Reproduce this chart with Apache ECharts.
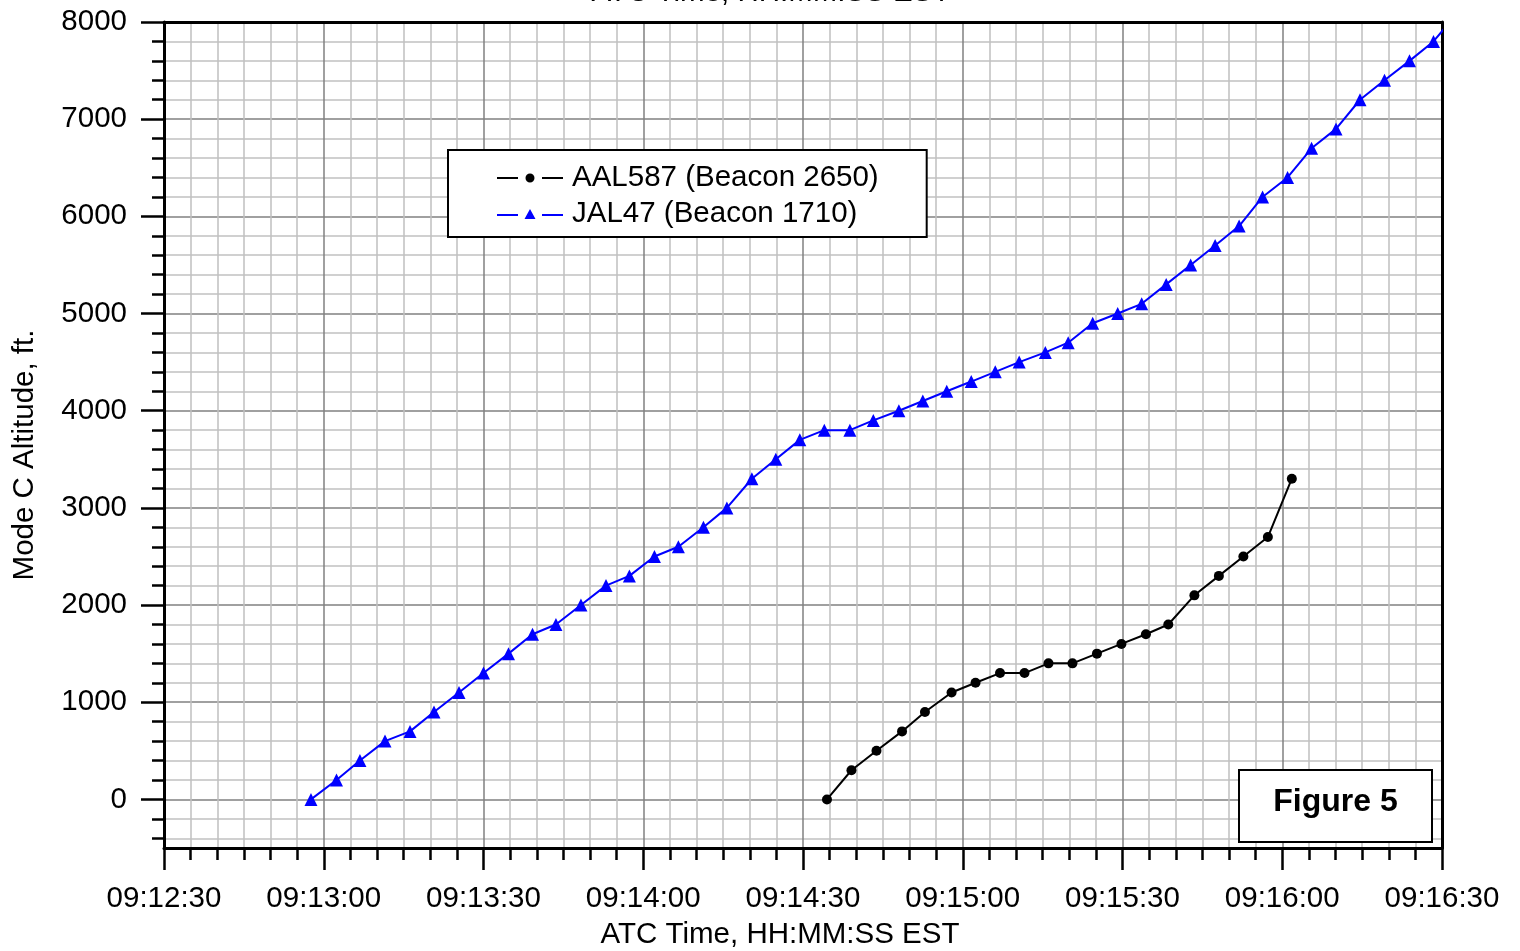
<!DOCTYPE html>
<html><head><meta charset="utf-8">
<script src="https://cdn.jsdelivr.net/npm/echarts@6/dist/echarts.min.js"></script>
<style>html,body{margin:0;padding:0;background:#fff}#c{width:1520px;height:951px}</style>
</head><body><div id="c"></div>
<script>
// ---- data ----
const xTickLabels = ['09:12:30','09:13:00','09:13:30','09:14:00','09:14:30','09:15:00','09:15:30','09:16:00','09:16:30'];
const yTickLabels = [0,1000,2000,3000,4000,5000,6000,7000,8000];
const yBottom = -500;
const yMinorStep = 200;

const aalName = 'AAL587 (Beacon 2650)';
const aalTimes = ['09:14:34.5','09:14:39.1','09:14:43.8','09:14:48.6','09:14:52.9','09:14:57.9','09:15:02.4','09:15:07.0','09:15:11.6','09:15:16.1','09:15:20.6','09:15:25.2','09:15:29.8','09:15:34.4','09:15:38.6','09:15:43.5','09:15:48.1','09:15:52.7','09:15:57.3','09:16:01.8'];
const aalAlt = [0,300,500,700,900,1100,1200,1300,1300,1400,1400,1500,1600,1700,1800,2100,2300,2500,2700,3300];

const jalName = 'JAL47 (Beacon 1710)';
const jalTimes = ['09:12:57.6','09:13:02.4','09:13:06.8','09:13:11.5','09:13:16.2','09:13:20.7','09:13:25.4','09:13:30.0','09:13:34.7','09:13:39.2','09:13:43.6','09:13:48.3','09:13:53.0','09:13:57.4','09:14:02.1','09:14:06.6','09:14:11.3','09:14:15.7','09:14:20.4','09:14:24.9','09:14:29.4','09:14:34.0','09:14:38.8','09:14:43.2','09:14:48.0','09:14:52.5','09:14:57.0','09:15:01.6','09:15:06.1','09:15:10.6','09:15:15.5','09:15:19.8','09:15:24.4','09:15:29.1','09:15:33.6','09:15:38.2','09:15:42.8','09:15:47.4','09:15:51.9','09:15:56.3','09:16:01.0','09:16:05.5','09:16:10.1','09:16:14.6','09:16:19.2','09:16:23.9','09:16:28.4','09:16:33.0'];
const jalAlt = [0,200,400,600,700,900,1100,1300,1500,1700,1800,2000,2200,2300,2500,2600,2800,3000,3300,3500,3700,3800,3800,3900,4000,4100,4200,4300,4400,4500,4600,4700,4900,5000,5100,5300,5500,5700,5900,6200,6400,6700,6900,7200,7400,7600,7800,8100];

// ---- helpers ----
function toSec(s){const p=s.split(':');return (+p[0])*3600+(+p[1])*60+parseFloat(p[2]);}
function pad(n){return (n<10?'0':'')+n;}
function fmt(v){v=Math.round(v);const h=Math.floor(v/3600),m=Math.floor((v%3600)/60),s=v%60;return pad(h)+':'+pad(m)+':'+pad(s);}

const xMin = toSec(xTickLabels[0]);
const xMax = toSec(xTickLabels[xTickLabels.length-1]);
const xInt = toSec(xTickLabels[1]) - xMin;
const yMax = yTickLabels[yTickLabels.length-1];
const yMajor = yTickLabels[1]-yTickLabels[0];
const yCats = [];
for (let v=yBottom; v<=yMax; v+=100) yCats.push(String(v));

const FONT = "'Liberation Sans', Arial, Helvetica, sans-serif";
const FS = 29.5;

const isMinor = (i,v)=> (+v)%yMinorStep===0;
const isMinorOnly = (i,v)=> (+v)%yMinorStep===0 && (+v)%yMajor!==0;
const isMajor = (i,v)=> (+v)%yMajor===0 && +v>=yTickLabels[0];
const isMajorInner = (i,v)=> (+v)%yMajor===0 && +v>=yTickLabels[0] && +v<yMax;

// legend icons: line — marker — line (gap around the marker)
const iconDot = 'path://M0,4 L21,4 L21,6 L0,6 Z M45,4 L66,4 L66,6 L45,6 Z M28.5,5 A4.5,4.5 0 1,0 37.5,5 A4.5,4.5 0 1,0 28.5,5 Z M33,0 L33,0.01 L33.01,0.01 Z M33,10 L33,9.99 L33.01,9.99 Z';
const iconTri = 'path://M0,5 L21,5 L21,7 L0,7 Z M45,5 L66,5 L66,7 L45,7 Z M33,0 L38.5,10 L27.5,10 Z';

const chart = echarts.init(document.getElementById('c'), null, {renderer:'canvas'});
chart.setOption({
  animation:false,
  backgroundColor:'#fff',
  textStyle:{fontFamily:FONT},
  grid:{left:164,right:78,top:22,bottom:103,show:false,containLabel:false,outerBoundsMode:'none'},
  xAxis:[
    {type:'value',position:'bottom',min:xMin,max:xMax,interval:xInt,
     axisLine:{show:true,onZero:false,lineStyle:{color:'#000',width:3}},
     axisTick:{show:true,length:22,lineStyle:{color:'#000',width:2.5}},
     minorTick:{show:true,splitNumber:6,length:12,lineStyle:{color:'#000',width:2.5}},
     splitLine:{show:true,showMinLine:false,showMaxLine:false,lineStyle:{color:'#808080',width:1.5}},
     minorSplitLine:{show:true,lineStyle:{color:'#c0c0c0',width:1.5}},
     axisLabel:{formatter:fmt,fontSize:FS,color:'#000',margin:36,fontFamily:FONT,showMinLabel:true,showMaxLabel:true},
     name:'ATC Time, HH:MM:SS EST',nameLocation:'middle',nameGap:72,
     nameTextStyle:{fontSize:FS,color:'#000',fontFamily:FONT,padding:[0,46,0,0]}},
    {type:'value',position:'top',min:xMin,max:xMax,interval:xInt,z:3,
     axisLine:{show:true,onZero:false,lineStyle:{color:'#000',width:3}},
     axisTick:{show:false},axisLabel:{show:false},splitLine:{show:false},
     name:'ATC Time, HH:MM:SS EST',nameLocation:'middle',nameGap:14,
     nameTextStyle:{fontSize:FS,color:'#000',fontFamily:FONT,padding:[0,64,0,0]}}
  ],
  yAxis:[
    {type:'value',position:'left',min:yBottom,max:yMax,z:3,
     axisLine:{show:true,onZero:false,lineStyle:{color:'#000',width:3}},
     axisTick:{show:false},axisLabel:{show:false},splitLine:{show:false},
     name:'Mode C Altitude, ft.',nameLocation:'middle',nameGap:124,nameRotate:90,
     nameTextStyle:{fontSize:FS,color:'#000',fontFamily:FONT,padding:[0,40,0,0]}},
    {type:'category',position:'left',offset:0,boundaryGap:false,data:yCats,
     axisLine:{show:false},
     axisTick:{show:true,interval:isMinor,length:12,lineStyle:{color:'#000',width:2.5}},
     axisLabel:{show:false},
     splitLine:{show:true,interval:isMinorOnly,lineStyle:{color:'#c0c0c0',width:1.5}}},
    {type:'category',position:'left',offset:0,boundaryGap:false,data:yCats,
     axisLine:{show:false},
     axisTick:{show:true,interval:isMajor,length:23,lineStyle:{color:'#000',width:2.5}},
     axisLabel:{show:true,interval:isMajor,fontSize:FS,color:'#000',margin:37,fontFamily:FONT},
     splitLine:{show:true,interval:isMajorInner,lineStyle:{color:'#808080',width:1.5}}},
    {type:'value',position:'right',min:yBottom,max:yMax,z:3,
     axisLine:{show:true,onZero:false,lineStyle:{color:'#000',width:3}},
     axisTick:{show:false},axisLabel:{show:false},splitLine:{show:false}}
  ],
  legend:{
    left:448,top:150,orient:'vertical',backgroundColor:'#fff',borderColor:'#000',borderWidth:2,borderRadius:0,
    padding:[13,48,8,49],itemWidth:66,itemHeight:10,itemGap:6,z:6,
    itemStyle:{borderWidth:0},
    textStyle:{fontSize:FS,color:'#000',fontFamily:FONT,padding:[0,0,0,4]},
    data:[{name:aalName,icon:iconDot},{name:jalName,icon:iconTri}]
  },
  graphic:[{
    type:'group',left:1238,top:769,z:100,
    children:[
      {type:'rect',z:100,shape:{x:0,y:0,width:193,height:72},style:{fill:'#fff',stroke:'#000',lineWidth:2}},
      {type:'text',z:101,x:96.5,y:32,style:{text:'Figure 5',fontSize:32,fontWeight:'bold',fontFamily:FONT,fill:'#000',align:'center',verticalAlign:'middle'}}
    ]
  }],
  series:[
    {name:aalName,type:'line',xAxisIndex:0,yAxisIndex:0,clip:true,
     data:aalTimes.map((t,i)=>[toSec(t),aalAlt[i]]),
     symbol:'circle',symbolSize:10,showAllSymbol:true,
     lineStyle:{color:'#000',width:2},itemStyle:{color:'#000'},z:5},
    {name:jalName,type:'line',xAxisIndex:0,yAxisIndex:0,clip:true,
     data:jalTimes.map((t,i)=>[toSec(t),jalAlt[i]]),
     symbol:'triangle',symbolSize:13,showAllSymbol:true,
     lineStyle:{color:'#0000ff',width:2},itemStyle:{color:'#0000ff'},z:5}
  ]
});
</script></body></html>
